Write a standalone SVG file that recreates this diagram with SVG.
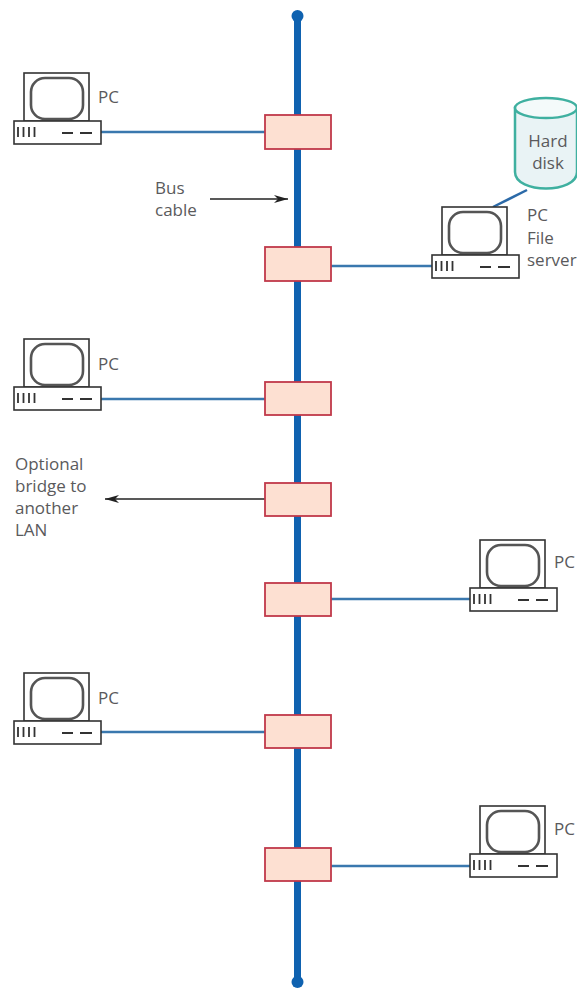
<svg xmlns="http://www.w3.org/2000/svg" width="577" height="988" viewBox="0 0 577 988">
<style>
.t{font-family:"Open Sans","Liberation Sans",sans-serif;font-size:17px;fill:#5a5a5c}
.box{fill:#fde0d2;stroke:#c0394a;stroke-width:1.800}
.link{fill:none;stroke:#3a78ae;stroke-width:2.500}
.ln{fill:#fff;stroke:#333;stroke-width:1.600}
.scr{fill:#fff;stroke:#555;stroke-width:2.600}
.tick{fill:none;stroke:#333;stroke-width:1.800}
.arr{fill:none;stroke:#222;stroke-width:1.500}
</style>
<defs>
<marker id="ah" markerUnits="userSpaceOnUse" markerWidth="15" markerHeight="9" refX="14" refY="4.500" orient="auto"><path d="M0 0.500L14 4.500L0 8.500L4 4.500Z" fill="#222"/></marker>
<g id="pc">
<rect class="ln" x="10" y="0" width="65" height="48"/>
<rect class="scr" x="17" y="5" width="52" height="41" rx="14"/>
<rect class="ln" x="0" y="48" width="87" height="23"/>
<path class="tick" d="M4 54V64M9.500 54V64M15 54V64M20.500 54V64M48 60H59M66 60H78"/>
</g>
</defs>
<g id="connectors">
<path d="M297.500 16V982" fill="none" stroke="#0f62b0" stroke-width="7"/>
<circle cx="297.500" cy="16" r="6" fill="#0f62b0"/>
<circle cx="297.500" cy="982" r="6" fill="#0f62b0"/>
<path class="link" d="M101 132H265M331 266H432M101 399H265M331 599H470M101 732H265M331 866H470"/>
<path d="M493 207L527 190" fill="none" stroke="#2c6aa8" stroke-width="2.500"/>
<path class="arr" d="M210 199H288" marker-end="url(#ah)"/>
<path class="arr" d="M265 499H105" marker-end="url(#ah)"/>
</g>
<g id="pc1"><use href="#pc" x="14" y="73"/><text class="t" x="98" y="103">PC</text></g>
<g id="pc-server"><use href="#pc" x="432" y="207"/><text class="t" x="527" y="221">PC</text><text class="t" x="527" y="244">File</text><text class="t" x="527" y="266">server</text></g>
<g id="hard-disk">
<path d="M515 108V172C515 194 577 194 577 172V108Z" fill="#e9f3f5" stroke="#3fb0a0" stroke-width="2.500"/>
<ellipse cx="546" cy="108" rx="31" ry="10" fill="#f4fafa" stroke="#3fb0a0" stroke-width="2.500"/>
<text class="t" x="548" y="147" text-anchor="middle">Hard</text>
<text class="t" x="548" y="169" text-anchor="middle">disk</text>
</g>
<g id="pc2"><use href="#pc" x="14" y="339"/><text class="t" x="98" y="370">PC</text></g>
<g id="pc3"><use href="#pc" x="470" y="540"/><text class="t" x="554" y="568">PC</text></g>
<g id="pc4"><use href="#pc" x="14" y="673"/><text class="t" x="98" y="704">PC</text></g>
<g id="pc5"><use href="#pc" x="470" y="806"/><text class="t" x="554" y="835">PC</text></g>
<g id="tap1"><rect class="box" x="265" y="115" width="66" height="34"/></g>
<g id="tap2"><rect class="box" x="265" y="247" width="66" height="34"/></g>
<g id="tap3"><rect class="box" x="265" y="382" width="66" height="33"/></g>
<g id="tap4"><rect class="box" x="265" y="483" width="66" height="33"/></g>
<g id="tap5"><rect class="box" x="265" y="583" width="66" height="33"/></g>
<g id="tap6"><rect class="box" x="265" y="715" width="66" height="33"/></g>
<g id="tap7"><rect class="box" x="265" y="848" width="66" height="33"/></g>
<g id="label-bus"><text class="t" x="155" y="194">Bus</text><text class="t" x="155" y="216">cable</text></g>
<g id="label-bridge"><text class="t" x="15" y="470">Optional</text><text class="t" x="15" y="492">bridge to</text><text class="t" x="15" y="514">another</text><text class="t" x="15" y="536">LAN</text></g>
</svg>
